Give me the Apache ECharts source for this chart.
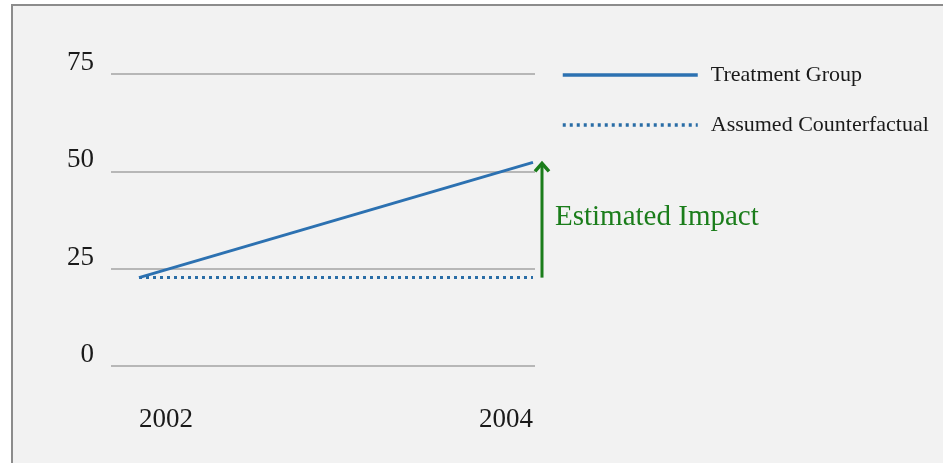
<!DOCTYPE html>
<html>
<head>
<meta charset="utf-8">
<script src="https://cdn.jsdelivr.net/npm/echarts@6/dist/echarts.min.js"></script>
<style>
    html, body { margin: 0; padding: 0; background: #ffffff; overflow: hidden; }
    #frame {
        position: absolute; left: 11px; top: 4px; width: 960px; height: 480px;
        background: #f2f2f2; border-left: 2px solid #8c8c8c; border-top: 2px solid #8c8c8c;
    }
    #chart { position: absolute; left: 0; top: 0; width: 943px; height: 463px; }
</style>
</head>
<body>
<div id="frame"></div>
<div id="chart"></div>
<script>
// chart data
const years = ['2002', '2004'];
const treatment = [22.7, 52.3];
const counterfactual = [22.7, 22.7];
const yTicks = [0, 25, 50, 75];
const seriesNames = ['Treatment Group', 'Assumed Counterfactual'];
const impactLabel = 'Estimated Impact';

const FONT = '"Liberation Serif", "DejaVu Serif", serif';
const BLUE = '#2c71b1';
const DOT_BLUE = '#2a6da6';
const GREEN = '#1b7d1b';

const chart = echarts.init(document.getElementById('chart'), null, { renderer: 'canvas' });

const option = {
    backgroundColor: 'transparent',
    animation: false,
    textStyle: { fontFamily: FONT },
    grid: [
        // grid 0 carries the y axis labels and the horizontal gridlines
        { left: 111, right: 408, top: 74, bottom: 97, containLabel: false },
        // grid 1 carries the data
        { left: 139, right: 410, top: 74, bottom: 97, containLabel: false }
    ],
    legend: {
        orient: 'vertical',
        left: 556,
        top: 59,
        itemWidth: 135,
        itemHeight: 20,
        itemGap: 28,
        selectedMode: false,
        data: seriesNames,
        // hide the symbol, keep only the line
        itemStyle: { opacity: 0 },
        lineStyle: { width: 3.5 },
        textStyle: {
            fontFamily: FONT,
            fontSize: 22,
            color: '#1a1a1a',
            lineHeight: 20,
            padding: [0, 0, 0, 8]
        }
    },
    xAxis: [
        {
            gridIndex: 0, type: 'category', data: years, show: false
        },
        {
            gridIndex: 1,
            type: 'category',
            data: years,
            boundaryGap: false,
            axisLine: { show: false },
            axisTick: { show: false },
            splitLine: { show: false },
            axisLabel: {
                fontFamily: FONT,
                fontSize: 27,
                color: '#1a1a1a',
                margin: 40,
                alignMinLabel: 'left',
                alignMaxLabel: 'right'
            }
        }
    ],
    yAxis: [
        {
            gridIndex: 0,
            type: 'value',
            min: yTicks[0],
            max: yTicks[yTicks.length - 1],
            interval: yTicks[1] - yTicks[0],
            axisLine: { show: false },
            axisTick: { show: false },
            splitLine: { lineStyle: { color: '#a3a3a3', width: 1.5 } },
            axisLabel: {
                fontFamily: FONT,
                fontSize: 27,
                color: '#1a1a1a',
                margin: 17,
                verticalAlign: 'bottom',
                lineHeight: 22
            }
        },
        {
            gridIndex: 1,
            type: 'value',
            min: yTicks[0],
            max: yTicks[yTicks.length - 1],
            show: false
        }
    ],
    series: [
        {
            name: seriesNames[0],
            type: 'line',
            xAxisIndex: 1,
            yAxisIndex: 1,
            data: treatment,
            symbol: 'none',
            z: 4,
            lineStyle: { color: BLUE, width: 3 },
            itemStyle: { color: BLUE },
            emphasis: { disabled: true }
        },
        {
            name: seriesNames[1],
            type: 'line',
            xAxisIndex: 1,
            yAxisIndex: 1,
            data: counterfactual,
            symbol: 'none',
            z: 3,
            lineStyle: { color: DOT_BLUE, width: 3, type: [3, 4] },
            itemStyle: { color: DOT_BLUE },
            emphasis: { disabled: true }
        },
        {
            // the impact arrow, from the counterfactual up to the treatment value
            type: 'custom',
            xAxisIndex: 1,
            yAxisIndex: 1,
            clip: false,
            silent: true,
            data: [[1, counterfactual[1], treatment[1]]],
            renderItem: (params, api) => {
                const p0 = api.coord([api.value(0), api.value(1)]);
                const p1 = api.coord([api.value(0), api.value(2)]);
                const x = p0[0] + 9;
                return {
                    type: 'group',
                    children: [
                        {
                            type: 'line',
                            shape: { x1: x, y1: p0[1], x2: x, y2: p1[1] + 2 },
                            style: { stroke: GREEN, lineWidth: 3 }
                        },
                        {
                            type: 'polyline',
                            shape: { points: [[x - 7, p1[1] + 9], [x, p1[1] + 1], [x + 7, p1[1] + 9]] },
                            style: { stroke: GREEN, lineWidth: 3.5, fill: null }
                        },
                        {
                            type: 'text',
                            style: {
                                text: impactLabel,
                                x: x + 13,
                                y: (p0[1] + p1[1]) / 2 - 3,
                                verticalAlign: 'middle',
                                fill: GREEN,
                                font: '29px ' + FONT
                            }
                        }
                    ]
                };
            }
        }
    ]
};

chart.setOption(option);
</script>
</body>
</html>
